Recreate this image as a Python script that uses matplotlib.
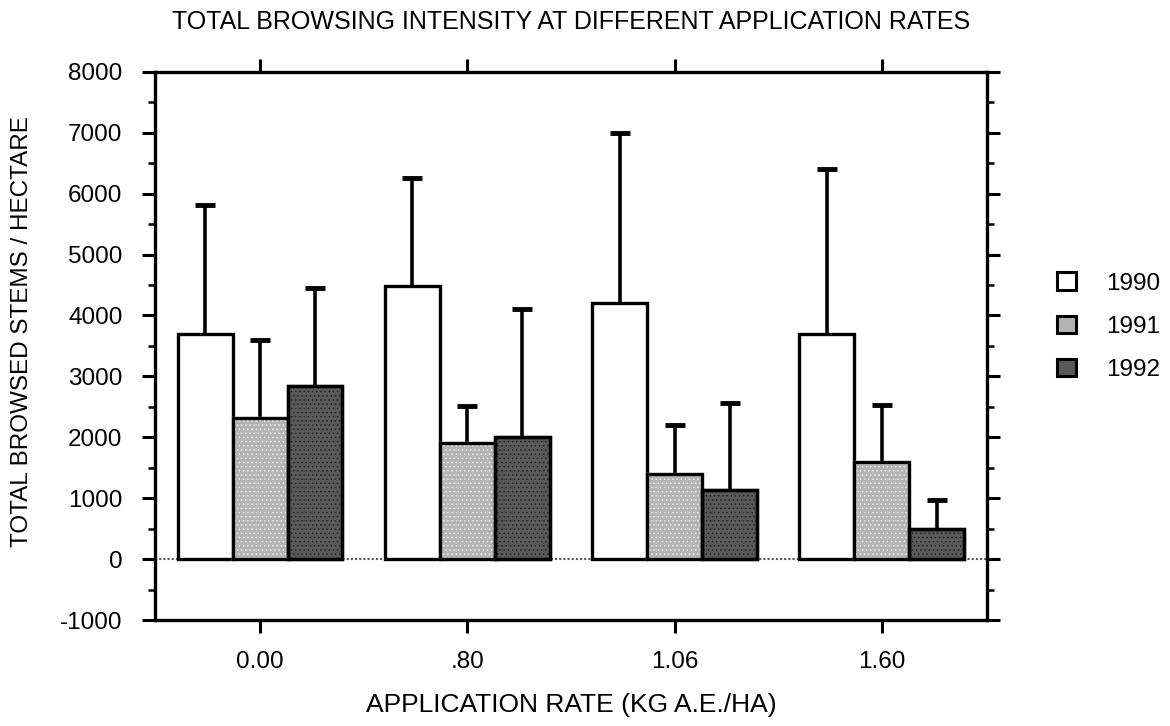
import matplotlib
matplotlib.use("Agg")
import matplotlib.pyplot as plt
import numpy as np

plt.rcParams['font.family'] = ['Liberation Sans', 'DejaVu Sans']
plt.rcParams['axes.unicode_minus'] = False

categories = ["0.00", ".80", "1.06", "1.60"]
years = ["1990", "1991", "1992"]
means_1990 = [3700, 4480, 4200, 3700]
means_1991 = [2320, 1900, 1400, 1600]
means_1992 = [2850, 2000, 1130, 500]
upper_1990 = [5820, 6250, 7000, 6400]
upper_1991 = [3600, 2520, 2210, 2530]
upper_1992 = [4450, 4100, 2570, 970]

means = [means_1990, means_1991, means_1992]
uppers = [upper_1990, upper_1991, upper_1992]
faces = ["white", "#b4b4b4", "#5a5a5a"]
hatches = [None, "....", "...."]
hatch_cols = ["black", "#eeeeee", "#222222"]

fig = plt.figure(figsize=(11.7, 7.26), dpi=100)
ax = fig.add_axes([0.1325, 0.146, 0.711, 0.755])

x = np.arange(len(categories))
w = 0.265
plt.rcParams['hatch.linewidth'] = 0.6
for i in range(3):
    xs = x + (i - 1) * w
    m = np.array(means[i]); u = np.array(uppers[i])
    b = ax.bar(xs, m, width=w, color=faces[i], edgecolor="black", linewidth=2.4,
               hatch=hatches[i], zorder=3, label=years[i])
    if hatches[i]:
        for p in b:
            p.set_edgecolor(hatch_cols[i])
        ax.bar(xs, m, width=w, fill=False, edgecolor="black", linewidth=2.4, zorder=4)
    ax.vlines(xs, m, u, color="black", linewidth=2.6, zorder=2)
    ax.plot(xs, u, linestyle="none", marker="_", markersize=15, mew=3.5, color="black", zorder=2)

ax.axhline(0, color="#555555", linestyle=(0, (1, 1)), linewidth=1.5, zorder=1)

ax.set_xlim(-0.507, 3.507)
ax.set_ylim(-1000, 8000)
ax.set_yticks(np.arange(-1000, 8001, 1000))
ax.set_yticks(np.arange(-1000, 8001, 500), minor=True)
ax.set_xticks(x)
ax.set_xticklabels(categories)
ax.tick_params(axis="both", which="major", labelsize=17.5, width=2.2, length=9.5, direction="out",
               right=True, top=True)
ax.tick_params(axis="y", which="major", pad=14)
ax.tick_params(axis="x", which="major", pad=13)
ax.tick_params(axis="y", which="minor", width=1.8, length=5, direction="out", right=True)
for s in ax.spines.values():
    s.set_linewidth(2.4)

ax.set_title("TOTAL BROWSING INTENSITY AT DIFFERENT APPLICATION RATES", fontsize=18, pad=31)
ax.set_xlabel("APPLICATION RATE (KG A.E./HA)", fontsize=19, labelpad=14)
ax.set_ylabel("TOTAL BROWSED STEMS / HECTARE", fontsize=17.5)
ax.yaxis.set_label_coords(-0.1466, 0.5255)

from matplotlib.patches import Patch
lh = [Patch(facecolor=faces[i], edgecolor="black", linewidth=2.2) for i in range(3)]
fig.legend(lh, years, loc="center left", bbox_to_anchor=(0.885, 0.55), frameon=False,
           fontsize=17.5, handlelength=0.75, handleheight=0.75, labelspacing=0.85, handletextpad=1.25)

fig.savefig("out.png", dpi=100)
